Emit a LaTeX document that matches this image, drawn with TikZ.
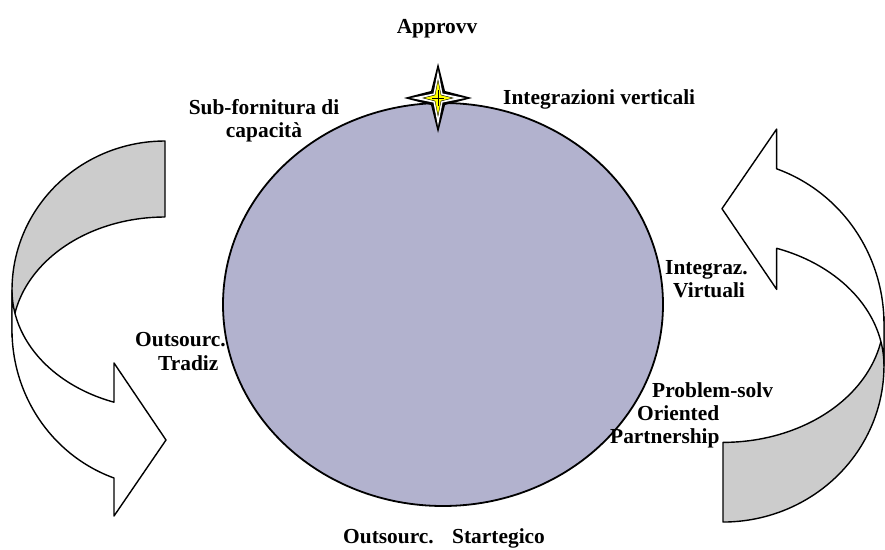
\documentclass[tikz,border=0pt]{standalone}
\usepackage{fontspec}
\setmainfont{Liberation Serif}
\definecolor{ellfill}{RGB}{178,178,206}
\definecolor{bandgray}{RGB}{204,204,204}
\definecolor{staryellow}{RGB}{255,255,0}
\begin{document}
\begin{tikzpicture}[x=1pt,y=-1pt,
  lbl/.style={font=\fontsize{21.4}{24}\selectfont\bfseries, inner sep=0pt, anchor=base west},
  band/.style={draw=black, line width=1.4pt, line join=round},
  ellbox/.style={draw=black, line width=1.8pt, fill=ellfill}]
\useasboundingbox (0,0) rectangle (885,549);

% central ellipse
\draw[ellbox] (443,304.5) ellipse [x radius=220pt, y radius=201.5pt];

% star on top of ellipse
\begin{scope}[shift={(438,98)}]
  \fill[black] (-34,0) -- (-7,-7) -- (0,-35) -- (7,-7) -- (34,0) -- (7,7) -- (0,35) -- (-7,7) -- cycle;
  \fill[white] (-27,0) -- (-4.5,-4.5) -- (0,-28) -- (4.5,-4.5) -- (27,0) -- (4.5,4.5) -- (0,28) -- (-4.5,4.5) -- cycle;
  \filldraw[fill=staryellow, draw=black, line width=0.4pt] (-15,0) -- (-3,-3) -- (0,-18) -- (3,-3) -- (15,0) -- (3,3) -- (0,18) -- (-3,3) -- cycle;
  \draw[black, line width=0.5pt] (-6,0) -- (6,0) (0,-8) -- (0,8);
\end{scope}

% left curved arrow
\begin{scope}
  \draw[band, fill=bandgray] (165,141) -- plot[domain=270:180, samples=50] ({165+153*cos(\x)},{290+149*sin(\x)})
     -- plot[domain=180:270, samples=50] ({165+153*cos(\x)},{336.5+119.5*sin(\x)}) -- cycle;
  \draw[band, fill=white] plot[domain=180:109.47, samples=50] ({165+153*cos(\x)},{330+157*sin(\x)})
     -- (114,516) -- (166,440) -- (114,363) -- (114,402.2)
     -- plot[domain=109.47:180, samples=50] ({165+153*cos(\x)},{290+119*sin(\x)}) -- cycle;
\end{scope}

% right curved arrow (same shape turned round)
\begin{scope}[shift={(896.6,669.8)}, xscale=-1.052, yscale=-1.048]
  \draw[band, fill=bandgray] (165,141) -- plot[domain=270:180, samples=50] ({165+153*cos(\x)},{290+149*sin(\x)})
     -- plot[domain=180:270, samples=50] ({165+153*cos(\x)},{336.5+119.5*sin(\x)}) -- cycle;
  \draw[band, fill=white] plot[domain=180:109.47, samples=50] ({165+153*cos(\x)},{330+157*sin(\x)})
     -- (114,516) -- (166,440) -- (114,363) -- (114,402.2)
     -- plot[domain=109.47:180, samples=50] ({165+153*cos(\x)},{290+119*sin(\x)}) -- cycle;
\end{scope}

% labels
\node[lbl, anchor=base] (approvv) at (437,33) {Approvv};
\node[lbl] (intvert) at (503,104) {Integrazioni verticali};
\node[lbl, anchor=base] (subf1) at (264,114) {Sub-fornitura di};
\node[lbl, anchor=base] (subf2) at (264,137) {capacità};
\node[lbl] (outs1) at (135,346) {Outsourc.};
\node[lbl] (outs2) at (158,370) {Tradiz};
\node[lbl] (intv1) at (665,274) {Integraz.};
\node[lbl] (intv2) at (673,297) {Virtuali};
\node[lbl] (prob1) at (652,397) {Problem-solv};
\node[lbl] (prob2) at (637,420) {Oriented};
\node[lbl] (prob3) at (610,443) {Partnership};
\node[lbl] (outst1) at (343,543) {Outsourc.};
\node[lbl] (outst2) at (452,543) {Startegico};
\end{tikzpicture}
\end{document}
